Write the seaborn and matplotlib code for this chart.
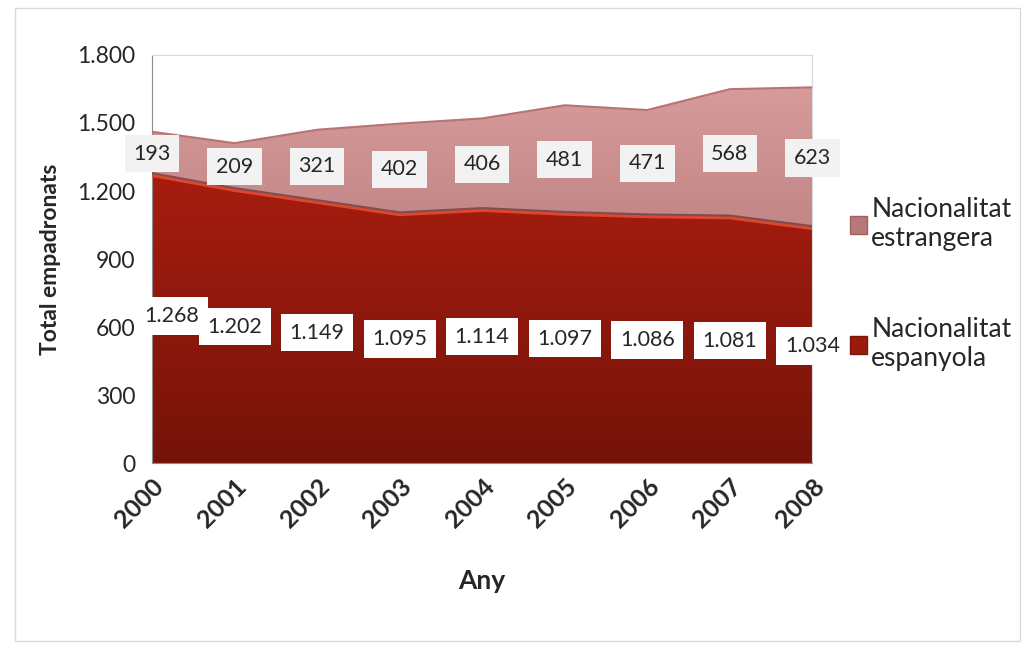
import numpy as np
import pandas as pd
import matplotlib
matplotlib.use("Agg")
import matplotlib.pyplot as plt
import seaborn as sns
from matplotlib.patches import Rectangle, PathPatch
from matplotlib.ticker import FuncFormatter
import matplotlib.patheffects as pe

years = [2000, 2001, 2002, 2003, 2004, 2005, 2006, 2007, 2008]
espanyola = [1268, 1202, 1149, 1095, 1114, 1097, 1086, 1081, 1034]
estrangera = [193, 209, 321, 402, 406, 481, 471, 568, 623]
series_names = ["Nacionalitat\nespanyola", "Nacionalitat\nestrangera"]

sns.set_style("white")
plt.rcParams["font.family"] = ["Lato", "DejaVu Sans"]

df = pd.DataFrame({"Any": years, "esp": espanyola, "est": estrangera})
df["total"] = df["esp"] + df["est"]

fig = plt.figure(figsize=(10.27, 6.46), dpi=100)
ax = fig.add_axes([0.148, 0.283, 0.643, 0.632])

x = np.arange(len(years))
polys = ax.stackplot(x, df["esp"], df["est"], colors=["#9a1a0e", "#c08080"], zorder=2)

# gradient fills
def grad(poly, c_top, c_bot, ymax):
    n = 256
    cmap = matplotlib.colors.LinearSegmentedColormap.from_list("g", [c_bot, c_top])
    img = ax.imshow(np.linspace(0, 1, n).reshape(-1, 1), cmap=cmap, aspect="auto",
                    extent=[x[0], x[-1], 0, ymax], origin="lower", zorder=2)
    clip = PathPatch(poly.get_paths()[0], transform=ax.transData, fc="none", ec="none")
    ax.add_patch(clip)
    img.set_clip_path(clip)
    poly.set_facecolor("none")
    poly.set_edgecolor("none")

grad(polys[0], "#a81d10", "#761309", 1300)
grad(polys[1], "#d89c9c", "#a06464", 1700)

sns.lineplot(x=x, y=df["total"].values, ax=ax, color="#b87474", lw=1.5, zorder=3)
sns.lineplot(x=x, y=df["esp"].values, ax=ax, color="#e0452f", lw=2, zorder=3,
             path_effects=[pe.SimpleLineShadow(offset=(0, 1.5), shadow_color="#6a4040", alpha=0.8),
                           pe.Normal()])
if ax.get_legend() is not None:
    ax.get_legend().remove()

ax.set_xlim(x[0], x[-1])
ax.set_ylim(0, 1800)
ax.set_yticks(range(0, 1801, 300))
ax.yaxis.set_major_formatter(FuncFormatter(lambda v, p: f"{int(v):,}".replace(",", ".")))
ax.set_xticks(x)
ax.set_xticklabels([str(y) for y in years], rotation=45, ha="right",
                   rotation_mode="anchor", fontsize=18, fontweight="bold")
ax.tick_params(axis="y", labelsize=16.5, length=0, pad=12)
ax.tick_params(axis="x", length=0, pad=8)
ax.set_ylabel("Total empadronats", fontsize=16.5, fontweight="bold", labelpad=12)
ax.set_xlabel("Any", fontsize=19, fontweight="bold", labelpad=27)
for s in ["top", "right"]:
    ax.spines[s].set_color("#d9d9d9")
for s in ["left", "bottom"]:
    ax.spines[s].set_color("#8c8c8c")

for i in x:
    e = df["esp"][i]
    f = df["est"][i]
    xe = i + (0.24 if i == 0 else 0)
    ax.text(xe, e / 2 + (15 if i == 0 else 0), f"{e:,}".replace(",", "."),
            ha="center", va="center", fontsize=15.5, zorder=5,
            bbox=dict(boxstyle="square,pad=0.4", fc="white", ec="none"))
    ax.text(i, e + f / 2, f"{f}", ha="center", va="center", fontsize=15.5, zorder=5,
            bbox=dict(boxstyle="square,pad=0.4", fc="#f2f2f2", ec="none"))

h = [Rectangle((0, 0), 1, 1, fc="#b87878", ec="#a06060"),
     Rectangle((0, 0), 1, 1, fc="#9a1a0e", ec="#7a150b")]
leg = fig.legend(h, [series_names[1], series_names[0]], loc="upper left",
                 bbox_to_anchor=(0.815, 0.715), frameon=False, fontsize=19,
                 handlelength=0.65, handleheight=0.65, handletextpad=0.15,
                 labelspacing=2.5, borderpad=0)

fig.patches.append(Rectangle((0.015, 0.008), 0.978, 0.98, transform=fig.transFigure,
                             fill=False, ec="#d9d9d9", lw=1))

fig.savefig("out.png", dpi=100)
